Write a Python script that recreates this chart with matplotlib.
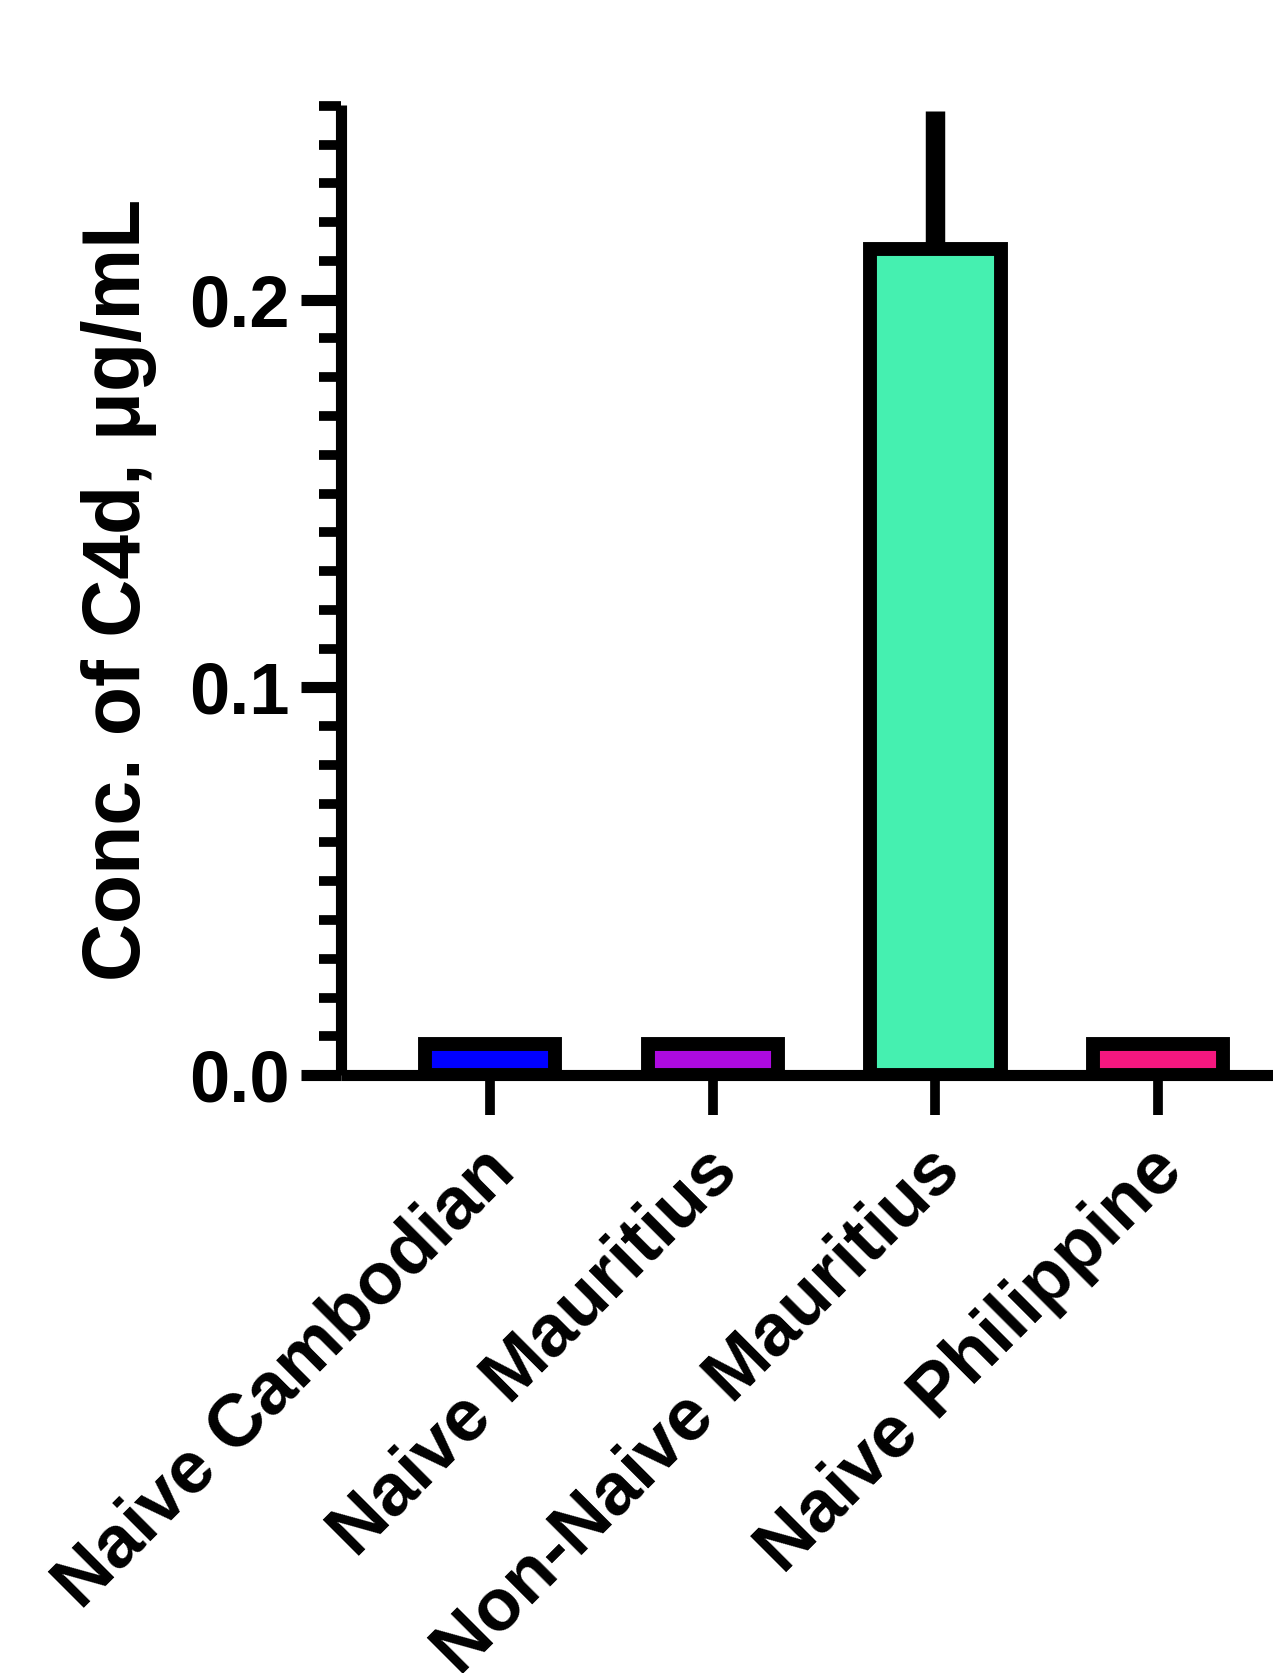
import numpy as np
import matplotlib
matplotlib.use("Agg")
import matplotlib.pyplot as plt
import matplotlib.transforms as mtransforms
from matplotlib.ticker import MultipleLocator, FixedLocator

# Data
groups = ["Naive Cambodian", "Naive Mauritius", "Non-Naive Mauritius", "Naive Philippine"]
means = [0.008, 0.008, 0.213, 0.008]
err_up = [0.0, 0.0, 0.0357, 0.0]
bar_colors = ["#0000FF", "#AD0AE0", "#45F0B0", "#F5177F"]

plt.rcParams['font.family'] = ['Liberation Sans', 'DejaVu Sans']
plt.rcParams['font.weight'] = 'bold'

fig = plt.figure(figsize=(12.73, 16.73), dpi=100)
ax = fig.add_axes([0.2679, 0.3574, 0.7321, 0.5798])

x = np.arange(len(groups))

# upper error bar only, drawn behind the bars
ax.errorbar(x, means, yerr=[np.zeros(len(x)), err_up], fmt='none',
            ecolor='black', elinewidth=14, capsize=0, zorder=1)
ax.bar(x, means, width=0.585, color=bar_colors, edgecolor='black',
       linewidth=10, zorder=2)

ax.set_xlim(-0.669, 3.516)
ax.set_ylim(0, 0.2502)

for side in ['top', 'right']:
    ax.spines[side].set_visible(False)
for side in ['left', 'bottom']:
    ax.spines[side].set_linewidth(8)
    ax.spines[side].set_capstyle('butt')

ax.yaxis.set_major_locator(FixedLocator([0.0, 0.1, 0.2]))
ax.yaxis.set_minor_locator(MultipleLocator(0.01))
ax.set_yticklabels(['0.0', '0.1', '0.2'])
ax.tick_params(axis='y', which='major', length=29, width=8, pad=8,
               labelsize=52)
ax.tick_params(axis='y', which='minor', length=16, width=7)

ax.set_xticks(x)
ax.set_xticklabels(groups, rotation=45, ha='right', va='center',
                   rotation_mode='anchor', fontsize=53, fontweight='bold')
ax.tick_params(axis='x', which='major', length=29, width=7, pad=32)
shift = mtransforms.ScaledTranslation(0.14, 0, fig.dpi_scale_trans)
for lbl in ax.get_xticklabels():
    lbl.set_transform(lbl.get_transform() + shift)

ax.set_ylabel('Conc. of C4d, μg/mL', fontsize=58, fontweight='bold')
ax.yaxis.set_label_coords(-0.198, 0.5)

fig.savefig('out.png', dpi=100)
